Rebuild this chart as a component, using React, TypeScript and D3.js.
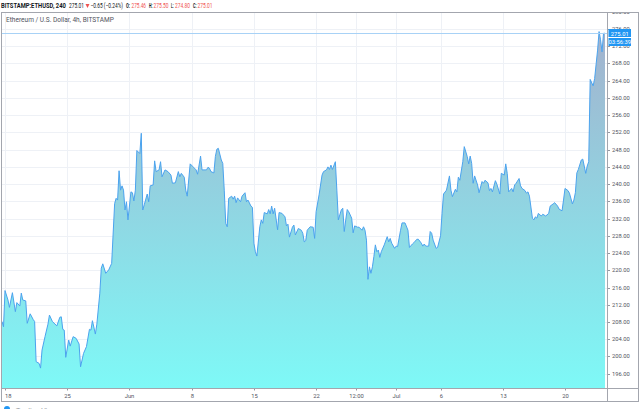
import React, { useLayoutEffect, useRef } from "react";
import * as d3 from "d3";

// ---- data (4h closes) ----
const times = [
  "05-17 16","05-17 20","05-18 00","05-18 08","05-18 12","05-18 20","05-19 04","05-19 08","05-19 16","05-19 20",
  "05-20 00","05-20 08","05-20 12","05-20 20","05-21 04","05-21 08","05-21 12","05-21 20","05-22 00","05-22 04",
  "05-22 12","05-22 20","05-23 00","05-23 08","05-23 20","05-24 04","05-24 08","05-24 12","05-24 16","05-24 20",
  "05-25 04","05-25 08","05-25 16","05-26 00","05-26 08","05-26 12","05-26 20","05-27 04","05-27 12","05-27 16",
  "05-27 20","05-28 04","05-28 08","05-28 16","05-28 20","05-29 00","05-29 08","05-29 16","05-30 00","05-30 08",
  "05-30 12","05-30 16","05-30 20","05-31 00","05-31 04","05-31 08","05-31 12","05-31 16","05-31 20","06-01 04",
  "06-01 08","06-01 12","06-01 16","06-01 20","06-02 04","06-02 08","06-02 12","06-02 16","06-03 00","06-03 04",
  "06-03 08","06-03 16","06-03 20","06-04 00","06-04 08","06-04 12","06-04 16","06-05 00","06-05 08","06-05 16",
  "06-05 20","06-06 04","06-06 12","06-06 16","06-06 20","06-07 04","06-07 08","06-07 12","06-07 20","06-08 04",
  "06-08 12","06-08 16","06-09 00","06-09 04","06-09 16","06-09 20","06-10 00","06-10 04","06-10 12","06-10 16",
  "06-10 20","06-11 00","06-11 08","06-11 12","06-11 16","06-11 20","06-12 00","06-12 04","06-12 12","06-12 16",
  "06-12 20","06-13 00","06-13 04","06-13 12","06-13 16","06-14 00","06-14 04","06-14 08","06-14 16","06-14 20",
  "06-15 00","06-15 04","06-15 08","06-15 16","06-15 20","06-16 00","06-16 04","06-16 12","06-16 16","06-16 20",
  "06-17 00","06-17 04","06-17 08","06-17 16","06-17 20","06-18 04","06-18 12","06-18 16","06-18 20","06-19 00",
  "06-19 08","06-19 12","06-19 16","06-20 00","06-20 08","06-20 12","06-20 16","06-20 20","06-21 00","06-21 08",
  "06-21 16","06-21 20","06-22 00","06-22 08","06-22 16","06-22 20","06-23 04","06-23 08","06-23 12","06-23 16",
  "06-23 20","06-24 04","06-24 08","06-24 12","06-24 20","06-25 00","06-25 04","06-25 08","06-25 12","06-25 16",
  "06-26 00","06-26 04","06-26 08","06-26 16","06-26 20","06-27 04","06-27 08","06-27 12","06-27 16","06-27 20",
  "06-28 00","06-28 04","06-28 08","06-28 12","06-28 16","06-28 20","06-29 00","06-29 04","06-29 08","06-29 16",
  "06-30 00","06-30 04","06-30 08","06-30 12","06-30 20","07-01 00","07-01 04","07-01 12","07-01 16","07-02 00",
  "07-02 08","07-02 12","07-02 20","07-03 00","07-03 08","07-03 12","07-03 20","07-04 00","07-04 04","07-04 08",
  "07-04 16","07-04 20","07-05 00","07-05 04","07-05 12","07-05 16","07-06 00","07-06 04","07-06 08","07-06 16",
  "07-07 00","07-07 04","07-07 08","07-07 16","07-07 20","07-08 00","07-08 04","07-08 12","07-08 16","07-09 00",
  "07-09 04","07-09 08","07-09 12","07-09 16","07-09 20","07-10 04","07-10 08","07-10 16","07-10 20","07-11 00",
  "07-11 08","07-11 12","07-11 16","07-11 20","07-12 04","07-12 08","07-12 16","07-12 20","07-13 04","07-13 08",
  "07-13 12","07-13 16","07-14 00","07-14 04","07-14 08","07-14 12","07-14 20","07-15 00","07-15 04","07-15 12",
  "07-15 16","07-15 20","07-16 00","07-16 08","07-16 12","07-16 16","07-16 20","07-17 00","07-17 08","07-17 12",
  "07-17 20","07-18 04","07-18 08","07-18 16","07-18 20","07-19 04","07-19 08","07-19 16","07-19 20","07-20 00",
  "07-20 08","07-20 12","07-20 20","07-21 00","07-21 04","07-21 08","07-21 12","07-21 20","07-22 00","07-22 08",
  "07-22 12","07-22 16","07-22 20","07-23 04","07-23 08","07-23 16","07-23 20","07-24 00","07-24 04","07-24 08",
  "07-24 12"
];
const prices = [
  208.1,206.9,215.3,213.1,211.4,214.8,210.4,212.5,211.7,214.7,
  213.1,212.9,207.7,209.9,208.6,208.1,198.8,198.4,197.3,201.5,
  204.6,207.5,209.6,208.1,207.1,209.1,209.2,206.3,206.1,199.8,
  203.8,202.4,204.6,204.2,202.9,197.6,200.7,202.3,206.3,206.1,
  208.3,205.2,207.5,214.7,220.5,221.5,219.3,220.1,221.6,235.5,
  236.7,236.3,243.1,238.6,239.6,238.6,234.0,235.9,231.7,238.2,
  238.0,236.1,238.6,247.8,247.1,251.8,234.0,235.2,237.7,235.9,
  239.6,239.8,245.4,242.9,243.3,245.2,241.7,243.3,242.9,242.1,
  240.2,240.3,242.9,241.7,242.5,241.6,238.6,237.2,244.7,244.0,
  243.3,242.3,246.5,243.3,243.3,243.9,243.7,242.9,242.6,246.4,
  248.1,248.3,245.6,244.8,238.6,230.9,230.1,236.7,237.2,236.5,
  237.2,235.7,236.8,235.9,237.2,238.0,235.9,236.3,234.9,234.6,
  226.3,224.3,223.3,230.1,231.7,230.9,233.4,233.1,234.1,233.1,
  234.9,233.1,234.4,229.4,233.4,233.2,232.4,230.3,230.7,227.7,
  230.0,230.5,228.2,229.7,229.3,228.6,226.6,226.9,229.3,230.1,
  230.0,227.4,233.6,237.5,242.1,242.9,243.3,244.0,243.4,244.4,
  243.4,245.2,238.6,231.7,234.0,234.4,229.0,231.7,234.1,233.6,
  232.1,228.7,230.3,230.0,230.0,229.3,230.1,229.3,227.0,217.9,
  220.8,219.3,220.8,223.2,225.9,224.3,224.7,223.0,224.3,225.9,
  227.8,226.6,227.4,226.3,225.1,225.6,225.5,229.3,231.0,231.0,
  229.3,225.3,226.1,226.4,227.2,227.2,226.3,225.6,226.1,225.6,
  225.6,229.0,228.6,227.0,225.1,225.3,228.0,233.2,237.7,238.6,
  241.9,238.6,237.1,238.8,238.2,241.6,240.9,245.2,248.7,246.4,
  244.7,246.5,244.8,240.2,241.9,239.8,238.0,240.6,240.2,240.9,
  240.3,238.5,239.0,238.2,240.8,240.0,237.7,242.5,242.1,244.7,
  242.5,238.2,239.0,238.2,239.8,240.2,241.3,239.6,239.0,238.5,
  237.9,238.2,237.2,232.1,231.7,232.4,232.1,233.2,232.6,233.0,
  232.6,233.2,234.9,235.4,235.7,234.9,234.2,233.8,236.3,239.0,
  238.5,237.9,235.4,236.3,238.0,242.6,243.4,245.6,245.8,242.5,
  244.2,245.2,264.3,262.8,264.5,271.1,275.4,273.5,270.7,275.0,
  275.01
];

const xTickTimes = ["05-18 00","05-25 00","06-01 00","06-08 00","06-15 00","06-22 00","06-26 12","07-01 00","07-06 00","07-13 00","07-20 00"];
const xTickLabels = ["18","25","Jun","8","15","22","12:00","Jul","6","13","20"];
const yTicks = [196,200,204,208,212,216,220,224,228,232,236,240,244,248,252,256,260,264,268,272,276,280];

const symbolText = "BITSTAMP:ETHUSD, 240";
const lastText = "275.01";
const changeText = "\u22120.65 (\u22120.24%)";
const ohlcLabels = ["O:", "H:", "L:", "C:"];
const ohlcValues = ["275.46", "275.50", "274.80", "275.01"];
const titleText = "Ethereum / U.S. Dollar, 4h, BITSTAMP";
const lastPrice = 275.01;
const countdownText = "03:56:39";

function parseT(s: string) {
  const [md, h] = s.split(" ");
  const [m, d] = md.split("-").map(Number);
  return new Date(Date.UTC(2020, m - 1, d, Number(h)));
}

const W = 640, H = 409;
const L = 2, R = 607, T = 12, B = 388, FB = 401.5, FR = 638.5;

const red = "#ef5350";
const dark = "#131722";
const axisText = "#50535e";
const grid = "#eef1f6";

// header items: text, left x, target width, bold, colour
const headerItems = [
  { s: symbolText, x: 1, w: 65, b: true, c: dark },
  { s: lastText, x: 69, w: 15, b: false, c: dark },
  { s: changeText, x: 90.5, w: 32.5, b: false, c: dark },
  { s: ohlcLabels[0], x: 126, w: 4, b: true, c: dark },
  { s: ohlcValues[0], x: 131.5, w: 14.5, b: false, c: red },
  { s: ohlcLabels[1], x: 149, w: 3.5, b: true, c: dark },
  { s: ohlcValues[1], x: 153.5, w: 15, b: false, c: red },
  { s: ohlcLabels[2], x: 171, w: 2.5, b: true, c: dark },
  { s: ohlcValues[2], x: 175, w: 15, b: false, c: red },
  { s: ohlcLabels[3], x: 193, w: 3.5, b: true, c: dark },
  { s: ohlcValues[3], x: 197.5, w: 15, b: false, c: red },
];

function FitText({ s, x, y, w, size, bold, fill }: { s: string; x: number; y: number; w: number; size: number; bold?: boolean; fill: string }) {
  const ref = useRef<SVGTextElement>(null);
  useLayoutEffect(() => {
    const el = ref.current;
    if (!el) return;
    const nat = el.getComputedTextLength() || w;
    el.setAttribute("transform", `translate(${x},${y}) scale(${w / nat},1)`);
  }, [s, x, y, w]);
  return (
    <text ref={ref} x={0} y={0} transform={`translate(${x},${y})`} fontSize={size} fontWeight={bold ? "bold" : "normal"} fill={fill}>{s}</text>
  );
}

export default function App() {
  const x = d3.scaleUtc().domain([parseT("05-18 00"), parseT("07-20 00")]).range([5, 565]);
  const y = d3.scaleLinear().domain([196, 276]).range([373.7, 29]);
  const data = times.map((t, i) => ({ t: parseT(t), v: prices[i] }));
  const line = d3.line<{ t: Date; v: number }>().x(d => x(d.t)).y(d => y(d.v));
  const area = d3.area<{ t: Date; v: number }>().x(d => x(d.t)).y0(B).y1(d => y(d.v));
  const font = "Roboto, 'Noto Sans', Arial, sans-serif";
  const py = Math.round(y(lastPrice)) + 0.5;

  return (
    <svg width={W} height={H} style={{ position: "fixed", left: 0, top: 0, background: "#fff" }} fontFamily={font}>
      <defs>
        <linearGradient id="fillG" gradientUnits="userSpaceOnUse" x1="0" y1={29} x2="0" y2={B}>
          <stop offset="0" stopColor="#a3b1cd" />
          <stop offset="1" stopColor="#7ef9f7" />
        </linearGradient>
        <clipPath id="plotClip">
          <rect x={L} y={T} width={R - L} height={B - T} />
        </clipPath>
        <clipPath id="axisClip">
          <rect x={R} y={T} width={FR - R} height={B - T} />
        </clipPath>
      </defs>
      <rect x={0} y={0} width={W} height={H} fill="#fff" />

      {/* header */}
      {headerItems.map((h, i) => (
        <FitText key={"h" + i} s={h.s} x={h.x} y={8} w={h.w} size={7} bold={h.b} fill={h.c} />
      ))}
      <path d="M85.5,4 L89.5,4 L87.5,8 Z" fill={red} />

      {/* grid, area, line */}
      <g clipPath="url(#plotClip)">
        {yTicks.map(v => (
          <line key={"gy" + v} x1={L} x2={R} y1={Math.round(y(v)) + 0.5} y2={Math.round(y(v)) + 0.5} stroke={grid} />
        ))}
        {xTickTimes.map(t => (
          <line key={"gx" + t} x1={Math.round(x(parseT(t))) + 0.5} x2={Math.round(x(parseT(t))) + 0.5} y1={T} y2={B} stroke={grid} />
        ))}
        <path d={area(data) || ""} fill="url(#fillG)" />
        <path d={line(data) || ""} fill="none" stroke="#4ba3ee" strokeWidth={1} strokeLinejoin="round" />
        <line x1={L} x2={R} y1={py} y2={py} stroke="#a8d2f6" strokeWidth={1} />
      </g>

      {/* title */}
      <FitText s={titleText} x={6} y={21.5} w={108} size={7} fill={axisText} />

      {/* right axis */}
      <g clipPath="url(#axisClip)">
        {yTicks.map(v => (
          <g key={"yt" + v}>
            <line x1={R} x2={R + 3} y1={Math.round(y(v)) + 0.5} y2={Math.round(y(v)) + 0.5} stroke="#9598a1" />
            <text x={612} y={y(v) + 2} fontSize={5.8} fill={axisText}>{v.toFixed(2)}</text>
          </g>
        ))}
        <rect x={608.5} y={py - 4.5} width={22.5} height={8} fill="#2196f3" />
        <text x={619.75} y={py + 2} fontSize={5.8} fill="#fff" textAnchor="middle">{lastPrice.toFixed(2)}</text>
        <rect x={608.5} y={py + 4.5} width={22.5} height={8} fill="#2196f3" />
        <text x={619.75} y={py + 10.8} fontSize={5.8} fill="#fff" textAnchor="middle">{countdownText}</text>
      </g>

      {/* bottom axis */}
      {xTickTimes.map((t, i) => {
        const xx = Math.round(x(parseT(t))) + 0.5;
        return (
          <g key={"xt" + t}>
            <line x1={xx} x2={xx} y1={B} y2={B + 2.5} stroke="#9598a1" />
            <text x={xx} y={398} fontSize={5.8} fill={axisText} textAnchor={i === 0 ? "start" : "middle"} dx={i === 0 ? -0.5 : 0}>{xTickLabels[i]}</text>
          </g>
        );
      })}

      {/* frame */}
      <rect x={L - 0.5} y={T + 0.5} width={FR - L + 0.5} height={FB - T - 0.5} fill="none" stroke="#a3a6ae" />
      <line x1={R + 0.5} x2={R + 0.5} y1={T} y2={FB} stroke="#a3a6ae" />
      <line x1={L} x2={FR} y1={B + 0.5} y2={B + 0.5} stroke="#a3a6ae" />

      {/* footer */}
      <circle cx={7} cy={409} r={3} fill="#2196f3" />
      <text x={16} y={413} fontSize={7} fill="#9598a1">Trading View</text>
    </svg>
  );
}
